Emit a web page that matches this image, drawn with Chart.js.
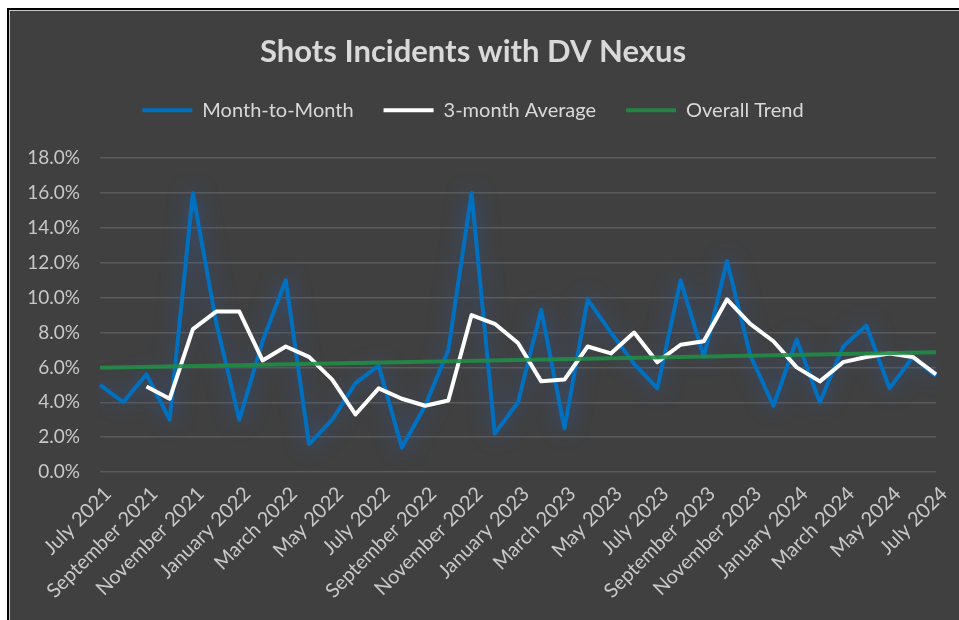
<!DOCTYPE html>
<html>
<head>
<meta charset="utf-8">
<script src="https://cdn.jsdelivr.net/npm/chart.js@4.4.1/dist/chart.umd.min.js"></script>
<style>
  html, body { margin: 0; padding: 0; background: #ffffff; }
  body { width: 959px; height: 620px; overflow: hidden; position: relative; }
  #frame {
    position: absolute; left: 7px; top: 8px; width: 960px; height: 620px;
    border-left: 2px solid #000; border-top: 2px solid #000;
  }
  #inner {
    position: absolute; left: 0; top: 0; width: 958px; height: 618px;
    border-left: 1px solid #c8c8c8; border-top: 1px solid #c8c8c8;
    background: #404040;
  }
  #wrap { position: absolute; left: 0; top: 0; width: 949px; height: 609px; }
</style>
</head>
<body>
<div id="frame"><div id="inner"><div id="wrap"><canvas id="myChart"></canvas></div></div></div>
<script>
// months on the category axis
var months = [
  'July 2021', 'August 2021', 'September 2021', 'October 2021', 'November 2021', 'December 2021',
  'January 2022', 'February 2022', 'March 2022', 'April 2022', 'May 2022', 'June 2022',
  'July 2022', 'August 2022', 'September 2022', 'October 2022', 'November 2022', 'December 2022',
  'January 2023', 'February 2023', 'March 2023', 'April 2023', 'May 2023', 'June 2023',
  'July 2023', 'August 2023', 'September 2023', 'October 2023', 'November 2023', 'December 2023',
  'January 2024', 'February 2024', 'March 2024', 'April 2024', 'May 2024', 'June 2024',
  'July 2024'
];

// percent values
var monthToMonth = [
  5.0, 4.0, 5.6, 3.0, 16.0, 8.6, 3.0, 7.5, 11.0, 1.6, 3.0, 5.1,
  6.1, 1.4, 3.8, 7.0, 16.0, 2.2, 4.0, 9.3, 2.5, 9.9, 8.0, 6.2,
  4.8, 11.0, 6.6, 12.1, 6.7, 3.8, 7.6, 4.0, 7.2, 8.4, 4.8, 6.6,
  5.5
];

var threeMonthAvg = [
  null, null, 4.9, 4.2, 8.2, 9.2, 9.2, 6.4, 7.2, 6.6, 5.3, 3.3,
  4.8, 4.2, 3.8, 4.1, 9.0, 8.5, 7.4, 5.2, 5.3, 7.2, 6.8, 8.0,
  6.3, 7.3, 7.5, 9.9, 8.5, 7.5, 6.0, 5.2, 6.3, 6.6, 6.8, 6.6,
  5.6
];

// trend line: only its two end values, joined straight
var trendStart = 5.98;
var trendEnd = 6.87;
var overallTrend = months.map(function (m, i) {
    if (i === 0) return trendStart;
    if (i === months.length - 1) return trendEnd;
    return null;
});

var yTicks = { min: 0, max: 18, step: 2 };

var fontFamily = 'Lato, "Noto Sans", sans-serif';

// soft blue glow behind the month-to-month line
var glowPlugin = {
    id: 'glow',
    beforeDatasetDraw: function (chart, args) {
        if (args.index === 0) {
            chart.ctx.save();
            chart.ctx.shadowColor = 'rgba(45, 95, 175, 0.75)';
            chart.ctx.shadowBlur = 20;
        }
    },
    afterDatasetDraw: function (chart, args) {
        if (args.index === 0) {
            chart.ctx.restore();
        }
    }
};

// leave a gap under the legend before the plot starts
var legendGap = {
    id: 'legendGap',
    afterInit: function (chart) {
        var fit = chart.legend.fit;
        chart.legend.fit = function () {
            fit.call(this);
            this.height += 28;
        };
    }
};

var ctx = document.getElementById('myChart').getContext('2d');
var myChart = new Chart(ctx, {
    type: 'line',
    data: {
        labels: months,
        datasets: [
            {
                label: 'Month-to-Month',
                data: monthToMonth,
                borderColor: '#0070C0',
                backgroundColor: '#0070C0',
                borderWidth: 4,
                borderJoinStyle: 'round',
                pointRadius: 0,
                tension: 0,
                order: 2
            },
            {
                label: '3-month Average',
                data: threeMonthAvg,
                borderColor: '#ffffff',
                backgroundColor: '#ffffff',
                borderWidth: 4,
                borderJoinStyle: 'round',
                pointRadius: 0,
                tension: 0,
                order: 1
            },
            {
                label: 'Overall Trend',
                data: overallTrend,
                borderColor: 'rgba(32, 140, 70, 0.9)',
                backgroundColor: 'rgba(32, 140, 70, 0.9)',
                borderWidth: 4,
                pointRadius: 0,
                spanGaps: true,
                order: 0
            }
        ]
    },
    options: {
        responsive: true,
        maintainAspectRatio: false,
        animation: false,
        layout: {
            padding: { left: 0, right: 23, top: 0, bottom: 0 }
        },
        scales: {
            x: {
                grid: { display: false },
                border: { display: false },
                ticks: {
                    autoSkip: false,
                    maxRotation: 45,
                    minRotation: 45,
                    padding: 2,
                    labelOffset: 8,
                    color: '#c8c8c8',
                    font: { family: fontFamily, size: 20 },
                    callback: function (val, idx) {
                        return idx % 2 === 0 ? this.getLabelForValue(val) : '';
                    }
                },
                afterFit: function (scale) {
                    scale.height = 148;
                }
            },
            y: {
                min: yTicks.min,
                max: yTicks.max,
                grid: { color: '#5a5a5a', lineWidth: 1.5, drawTicks: false },
                border: { display: false },
                ticks: {
                    stepSize: yTicks.step,
                    padding: 20,
                    color: '#c8c8c8',
                    font: { family: fontFamily, size: 19 },
                    callback: function (v) {
                        return v.toFixed(1) + '%';
                    }
                },
                afterFit: function (scale) {
                    scale.width = 90;
                }
            }
        },
        plugins: {
            title: {
                display: true,
                text: 'Shots Incidents with DV Nexus',
                color: '#d9d9d9',
                font: { family: fontFamily, size: 31, weight: 'bold' },
                padding: { top: 22, bottom: 0 }
            },
            legend: {
                labels: {
                    usePointStyle: true,
                    pointStyle: 'line',
                    pointStyleWidth: 50,
                    padding: 30,
                    color: '#d9d9d9',
                    font: { family: fontFamily, size: 20 },
                    sort: function (a, b) {
                        return a.datasetIndex - b.datasetIndex;
                    }
                }
            },
            tooltip: { enabled: false }
        }
    },
    plugins: [glowPlugin, legendGap]
});
</script>
</body>
</html>
